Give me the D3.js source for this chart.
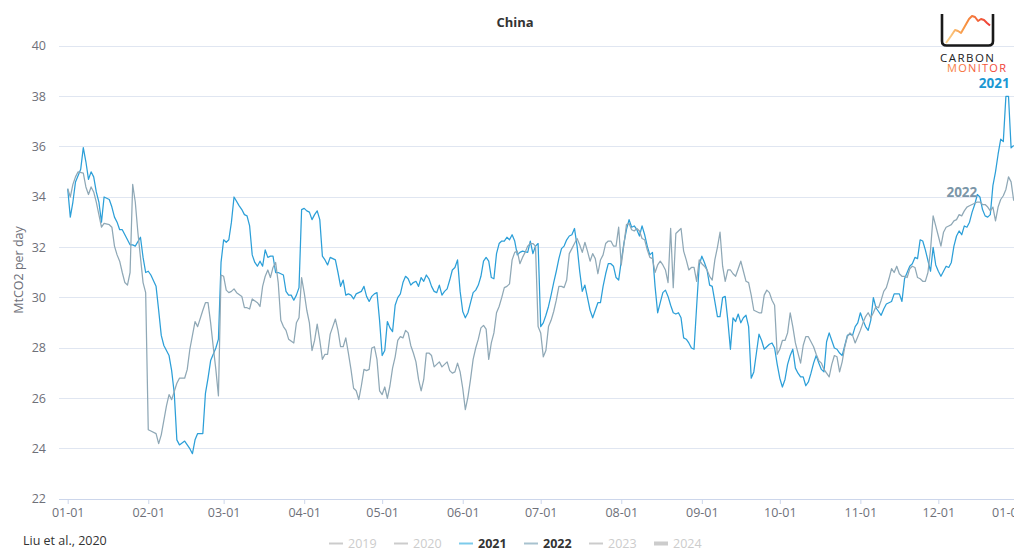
<!DOCTYPE html>
<html>
<head>
<meta charset="utf-8">
<script src="https://cdn.jsdelivr.net/npm/d3@7"></script>
<style>
  body { margin: 0; background: #fff; }
  svg { display: block; font-family: "Open Sans", "Noto Sans", sans-serif; }
</style>
</head>
<body>
<svg id="chart" width="1014" height="551"></svg>
<script>
// ---- data -------------------------------------------------------------
const monthLabels = ["01-01","02-01","03-01","04-01","05-01","06-01","07-01","08-01","09-01","10-01","11-01","12-01","01-01"];
const yTicks = [22, 24, 26, 28, 30, 32, 34, 36, 38, 40];
const legendYears = ["2019", "2020", "2021", "2022", "2023", "2024"];
const activeYears = ["2021", "2022"];

// day of year (0 = Jan 1) and daily emissions, MtCO2
const days2021 = [0,1,2,3,5,6,7,8,9,10,11,12,13,14,16,17,18,19,20,21,22,23,24,25,26,28,29,30,31,32,34,35,36,37,39,40,41,42,43,45,46,47,48,49,50,52,53,54,55,57,58,59,60,61,62,63,64,66,67,68,69,70,71,72,73,74,75,76,77,78,79,80,81,83,84,85,86,87,88,89,90,91,92,93,94,95,96,97,98,99,100,101,103,104,105,106,107,108,109,110,111,112,113,114,115,116,117,118,119,120,121,122,123,124,125,126,127,128,129,130,131,132,133,134,135,136,137,138,139,140,141,142,143,144,145,146,147,148,149,150,151,152,153,154,155,156,157,158,159,160,161,162,163,164,165,166,167,168,169,170,171,172,173,174,175,177,178,179,180,181,182,183,184,185,186,187,188,189,190,191,192,193,194,195,196,197,198,199,200,201,202,203,204,205,206,207,208,209,210,211,212,213,214,215,216,217,218,219,220,221,222,223,224,225,226,227,228,229,230,231,232,233,234,235,236,237,238,239,240,241,242,243,244,245,246,247,248,249,250,251,252,253,254,255,256,257,258,259,260,261,262,263,264,265,266,267,268,269,270,271,272,273,274,275,276,277,278,279,280,281,282,283,284,285,286,287,288,289,290,291,292,293,294,295,296,297,298,299,300,301,302,303,304,305,306,307,308,309,310,311,312,313,314,315,316,317,318,319,320,321,322,323,324,325,326,327,328,329,330,332,333,334,335,336,337,338,339,340,341,342,343,344,345,346,347,348,349,350,351,352,353,354,355,356,357,358,359,360,361,362,363,364];
const co2_2021 = [34.33,33.2,33.8,34.6,35.1,35.96,35.4,34.7,35.0,34.8,34.2,33.8,33.0,34.0,33.9,33.6,33.2,33.0,32.7,32.7,32.5,32.3,32.1,32.1,32.05,32.4,31.6,31.0,31.05,30.9,30.45,29.5,28.5,28.1,27.7,27.1,26.2,24.35,24.15,24.3,24.15,24.0,23.8,24.35,24.6,24.6,26.2,26.8,27.5,28.0,28.35,31.4,32.3,32.2,32.3,33.0,34.0,33.65,33.5,33.3,33.25,32.85,31.7,31.4,31.25,31.45,31.25,31.9,31.6,31.65,31.65,31.0,31.0,30.9,30.25,30.1,30.1,29.9,30.1,30.4,33.5,33.55,33.45,33.4,33.1,33.3,33.45,33.1,31.65,31.5,31.3,31.6,31.5,31.0,30.45,30.7,30.1,30.15,30.1,29.95,30.15,30.2,30.25,30.45,30.05,29.85,30.05,30.15,30.2,29.1,27.7,27.9,29.05,28.8,28.65,29.7,30.0,30.15,30.6,30.85,30.75,30.5,30.6,30.65,30.45,30.8,30.65,30.9,30.75,30.45,30.25,30.2,30.5,30.1,30.25,30.35,30.7,31.1,31.2,31.5,30.25,29.45,29.2,29.4,29.8,30.2,30.3,30.5,30.85,31.45,31.6,31.45,30.8,30.75,31.75,32.15,32.25,32.25,32.4,32.3,32.5,32.25,31.7,31.8,31.85,31.8,32.25,31.75,32.05,32.15,28.85,29.0,29.3,29.65,30.1,30.6,31.05,31.55,31.95,32.05,32.3,32.45,32.5,32.75,32.05,31.05,30.25,30.5,30.0,29.5,29.2,29.5,29.8,29.8,30.45,30.95,31.35,31.35,31.25,30.8,30.7,31.45,32.15,32.7,33.1,32.8,32.85,32.7,32.45,32.85,32.5,32.05,31.7,31.8,30.45,29.4,29.8,30.2,30.3,30.05,29.7,29.4,29.35,29.4,29.2,28.4,28.35,28.2,28.0,27.95,29.65,31.3,31.65,31.4,31.1,30.5,30.45,29.85,29.25,29.25,30.0,30.05,29.1,27.95,29.2,29.05,29.35,29.0,29.2,29.3,28.85,26.8,27.05,27.8,28.55,28.3,27.95,28.05,28.15,28.2,28.0,27.35,26.8,26.45,26.75,27.35,27.7,27.95,27.2,27.0,26.85,26.85,26.5,26.65,27.0,27.4,27.7,27.4,27.15,27.05,28.25,28.6,28.3,28.0,27.95,27.8,27.7,28.1,28.5,28.55,28.5,28.85,29.0,29.4,29.1,28.85,28.7,29.1,30.0,29.6,29.45,29.3,29.55,29.75,29.8,29.85,30.15,30.15,30.15,29.85,30.75,31.0,31.25,31.35,31.6,31.55,32.3,32.25,31.9,31.05,32.0,31.3,31.05,30.85,31.05,31.25,31.2,31.4,32.05,32.45,32.65,32.5,32.85,32.8,33.0,33.4,33.7,34.1,34.0,33.5,33.25,33.2,33.3,34.45,35.0,35.7,36.3,36.2,38.0,38.0,35.95,36.05];

const days2022 = [0,1,2,3,4,6,7,8,9,10,11,12,13,14,16,17,18,19,20,21,22,23,24,25,26,27,28,29,30,31,32,34,35,36,38,39,40,42,43,45,46,47,48,49,50,52,53,54,55,56,57,58,59,60,61,62,63,64,65,67,68,69,70,71,73,74,75,76,77,78,79,80,81,82,83,84,85,87,88,89,90,91,92,93,94,95,96,97,98,99,100,101,102,103,104,105,106,107,108,109,110,111,112,113,114,115,116,117,118,119,120,121,122,123,124,125,126,127,128,129,130,131,132,133,134,135,136,137,138,139,140,141,142,143,144,145,146,147,148,149,150,151,152,153,154,155,156,157,158,159,160,161,162,163,164,165,166,167,168,169,170,171,172,173,174,175,176,177,178,179,180,181,182,183,184,185,186,187,188,189,190,191,192,193,194,195,196,197,198,199,200,201,202,203,204,205,206,207,208,209,210,211,212,213,214,215,216,217,218,219,220,221,222,223,224,225,226,227,228,229,230,231,232,233,234,235,236,237,238,239,240,241,242,243,244,245,246,247,248,249,250,251,252,253,254,255,256,257,258,259,260,261,262,263,264,265,266,267,268,269,270,271,272,273,274,275,276,277,278,279,280,281,282,283,284,285,286,287,288,289,290,291,292,293,294,295,296,297,298,299,300,301,302,303,304,305,306,307,308,309,310,311,312,313,314,315,316,317,318,319,320,321,322,323,324,325,326,327,328,329,330,331,332,333,334,335,336,337,338,339,340,341,342,343,344,345,346,347,348,349,350,351,352,353,354,355,356,357,358,359,360,361,362,363,364];
const co2_2022 = [34.33,34.0,34.5,34.8,35.0,34.95,34.4,34.1,34.4,34.2,33.8,33.3,32.8,32.95,32.9,32.8,32.05,31.7,31.45,31.0,30.6,30.5,31.0,34.5,33.8,32.6,31.6,30.6,30.2,24.75,24.7,24.6,24.2,24.55,25.7,26.15,25.95,26.6,26.8,26.8,27.15,27.95,28.5,29.05,28.85,29.5,29.8,29.8,29.0,28.05,27.15,26.1,30.9,30.85,30.3,30.2,30.25,30.35,30.2,30.05,29.6,29.6,29.55,29.95,29.8,29.65,30.45,30.85,31.1,30.8,31.2,31.4,30.6,29.1,28.85,28.7,28.35,28.2,29.0,29.2,30.8,30.2,29.5,29.0,27.9,28.3,28.95,28.3,27.55,27.75,27.75,28.55,28.85,29.15,28.7,28.05,28.05,28.4,27.8,27.15,26.4,26.3,25.95,26.5,27.15,27.1,27.15,28.0,28.05,27.55,26.3,26.15,26.45,26.0,26.5,27.2,27.65,28.3,28.45,28.4,28.7,28.6,28.1,27.8,27.45,26.75,26.3,26.75,27.8,27.8,27.7,27.25,27.35,27.45,27.25,27.35,27.45,27.1,27.0,27.05,27.4,27.05,26.4,25.55,26.05,26.75,27.55,28.0,28.35,28.8,28.9,28.75,27.55,28.2,28.6,29.4,29.65,30.0,30.4,30.45,30.55,31.5,31.8,31.85,31.35,31.6,31.8,32.05,32.15,32.15,32.05,28.85,28.6,27.65,27.9,28.85,29.1,29.45,29.9,30.45,30.45,30.4,30.7,31.75,31.95,32.15,32.35,32.1,31.8,32.2,31.85,31.45,31.75,31.55,30.95,31.5,31.7,32.15,32.25,32.25,32.05,32.05,32.8,31.3,32.1,32.9,32.95,32.7,32.65,32.75,32.65,32.35,32.3,31.9,31.6,31.55,31.0,31.3,31.45,31.3,31.1,30.6,32.75,30.4,32.55,32.65,32.75,31.85,31.5,31.1,31.2,31.2,30.65,31.5,31.35,31.25,31.1,30.85,30.7,31.5,32.0,32.6,31.25,30.65,31.1,31.1,30.95,30.85,31.15,31.45,31.05,30.65,30.6,30.1,29.5,29.45,29.4,29.4,30.1,30.3,30.2,29.9,29.7,27.75,27.95,28.3,28.3,28.6,29.4,28.85,28.2,27.8,27.4,28.1,28.45,28.45,28.25,28.05,27.75,27.5,27.4,27.15,27.0,26.85,27.35,27.7,27.65,27.05,27.45,28.05,28.45,28.6,28.5,28.2,28.45,28.7,29.0,29.25,29.4,29.2,29.4,29.65,29.6,29.9,30.25,30.4,30.75,31.15,31.0,31.25,30.95,30.85,30.85,30.8,31.15,31.25,31.2,30.8,30.75,30.65,30.65,31.0,31.9,33.25,32.85,32.45,32.05,32.6,32.8,32.85,32.9,33.05,33.1,33.3,33.25,33.45,33.6,33.65,33.7,33.75,33.8,33.8,33.7,33.7,33.6,33.45,33.6,33.05,33.6,33.9,34.05,34.3,34.8,34.6,33.85];

// ---- layout ---------------------------------------------------------
const W = 1014, H = 551;
const plotLeft = 59.3;
const svg = d3.select("#chart");

// month starts on a leap-year calendar (366 daily slots)
const yearStart = new Date(2020, 0, 1);
const tickDays = monthLabels.map((_, i) => d3.timeDay.count(yearStart, new Date(2020, i, 1)));

const x = d3.scaleLinear().domain([0, 366]).range([67.7, 1018.9]);
const y = d3.scaleLinear().domain([22, 40]).range([499, 46]);

// horizontal grid
svg.append("g").selectAll("line")
  .data(yTicks.filter(t => t !== 22))
  .join("line")
  .attr("x1", plotLeft).attr("x2", W)
  .attr("y1", d => y(d)).attr("y2", d => y(d))
  .attr("stroke", "#e0e6f1").attr("stroke-width", 1).attr("shape-rendering", "crispEdges");

// y axis labels
svg.append("g").selectAll("text")
  .data(yTicks)
  .join("text")
  .attr("x", 46).attr("y", d => y(d)).attr("dy", "0.35em")
  .attr("text-anchor", "end")
  .attr("font-size", 12.5).attr("fill", "#6e7079")
  .text(d => d);

// y axis title
svg.append("text")
  .attr("transform", `translate(19,${y(31.1)}) rotate(-90)`)
  .attr("text-anchor", "middle").attr("dy", "0.35em")
  .attr("font-size", 12.5).attr("fill", "#6e7079")
  .text("MtCO2 per day");

// x axis
const xAxis = d3.axisBottom(x)
  .tickValues(tickDays)
  .tickFormat((d, i) => monthLabels[i])
  .tickSize(5).tickPadding(4.5);
const gx = svg.append("g").attr("transform", `translate(0,${y(22)})`).call(xAxis);
gx.select(".domain").remove();
gx.selectAll(".tick line").attr("stroke", "#ccd6eb");
gx.selectAll(".tick text").attr("fill", "#6e7079").attr("font-size", 12.5)
  .attr("font-family", "'Open Sans','Noto Sans',sans-serif");
gx.selectAll(".tick text").filter((d, i) => i === monthLabels.length - 1).attr("dx", -11);
svg.append("line")
  .attr("x1", plotLeft).attr("x2", W)
  .attr("y1", y(22)).attr("y2", y(22))
  .attr("stroke", "#ccd6eb").attr("shape-rendering", "crispEdges");

// series
const series = [
  { year: "2021", days: days2021, values: co2_2021, color: "#2c9fd8", labelColor: "#1b98d3" },
  { year: "2022", days: days2022, values: co2_2022, color: "#8fa8b6", labelColor: "#7b96a8" }
];
const line = d3.line().x(d => x(d[0])).y(d => y(d[1]));
series.forEach(s => {
  svg.append("path")
    .datum(d3.zip(s.days, s.values))
    .attr("fill", "none")
    .attr("stroke", s.color)
    .attr("stroke-width", 1.25)
    .attr("stroke-linejoin", "round")
    .attr("d", line);
});

// end labels
const s21 = series[0], s22 = series[1];
svg.append("text")
  .attr("x", x(s21.days[s21.days.length - 1]) - 4)
  .attr("y", y(d3.max(s21.values)) - 8)
  .attr("text-anchor", "end").attr("font-size", 13.5).attr("font-weight", "bold")
  .attr("fill", s21.labelColor).text(s21.year);
svg.append("text")
  .attr("x", x(350))
  .attr("y", y(34))
  .attr("text-anchor", "end").attr("font-size", 13.5).attr("font-weight", "bold")
  .attr("fill", s22.labelColor).text(s22.year);

// title
svg.append("text")
  .attr("x", 515).attr("y", 27)
  .attr("text-anchor", "middle").attr("font-size", 13).attr("font-weight", "bold")
  .attr("fill", "#333").text("China");

// source note
svg.append("text")
  .attr("x", 23).attr("y", 545)
  .attr("font-size", 12.5).attr("fill", "#333")
  .text("Liu et al., 2020");

// legend
const legendStep = 65, legendStart = 329, legendY = 544;
const legendColors = { "2021": "#7ccbeb", "2022": "#a8c2cf" };
const lg = svg.append("g");
legendYears.forEach((yr, i) => {
  const sx = legendStart + i * legendStep;
  const on = activeYears.includes(yr);
  const col = on ? legendColors[yr] : "#cccccc";
  if (yr === "2024") {
    lg.append("rect").attr("x", sx).attr("y", legendY - 2.5).attr("width", 14).attr("height", 4)
      .attr("fill", col);
  } else {
    lg.append("line").attr("x1", sx).attr("x2", sx + 14)
      .attr("y1", legendY - 0.5).attr("y2", legendY - 0.5)
      .attr("stroke", col).attr("stroke-width", 2);
  }
  lg.append("text").attr("x", sx + 19).attr("y", legendY).attr("dy", "0.35em")
    .attr("font-size", 12.5)
    .attr("font-weight", on ? "bold" : "normal")
    .attr("fill", on ? "#333" : "#cccccc")
    .text(yr);
});

// Carbon Monitor logo
const defs = svg.append("defs");
const g1 = defs.append("linearGradient").attr("id", "logoLine").attr("x1", "0%").attr("x2", "100%");
g1.append("stop").attr("offset", "0%").attr("stop-color", "#fcd48e");
g1.append("stop").attr("offset", "45%").attr("stop-color", "#f7913f");
g1.append("stop").attr("offset", "100%").attr("stop-color", "#ee3b37");
const g2 = defs.append("linearGradient").attr("id", "logoText").attr("x1", "0%").attr("x2", "100%");
g2.append("stop").attr("offset", "0%").attr("stop-color", "#f7863d");
g2.append("stop").attr("offset", "100%").attr("stop-color", "#ee3b37");

const logo = svg.append("g");
logo.append("path")
  .attr("d", "M942,14 L942,41 Q942,45.5 946.5,45.5 L988.5,45.5 Q993,45.5 993,41 L993,14")
  .attr("fill", "none").attr("stroke", "#1a1a1a").attr("stroke-width", 2.6);
logo.append("polyline")
  .attr("points", "946,43 951,36 955,30 958,31 961,33 965,26 969,19 972,16 975,17 978,21 981,19 984,20 987,23 990,25.5")
  .attr("fill", "none").attr("stroke", "url(#logoLine)").attr("stroke-width", 2)
  .attr("stroke-linejoin", "round");
logo.append("text").attr("x", 940).attr("y", 62)
  .attr("font-size", 11.5).attr("fill", "#222")
  .attr("textLength", 54).attr("lengthAdjust", "spacing")
  .text("CARBON");
logo.append("text").attr("x", 947).attr("y", 71.5)
  .attr("font-size", 11).attr("fill", "url(#logoText)")
  .attr("textLength", 59).attr("lengthAdjust", "spacing")
  .text("MONITOR");
</script>
</body>
</html>
